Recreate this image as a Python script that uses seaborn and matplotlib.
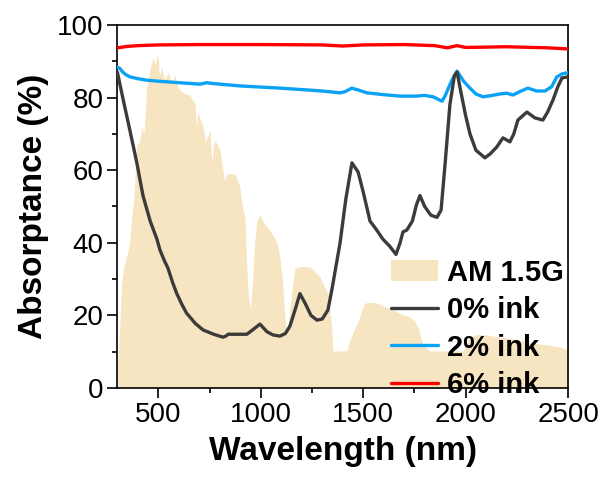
import numpy as np
import pandas as pd
import matplotlib
matplotlib.use("Agg")
import matplotlib.pyplot as plt
import seaborn as sns

# ---- data ----
am_wl = [300, 310, 320, 330, 345, 360, 370, 380, 395, 410, 420, 430, 443, 459, 474, 485, 498, 505,
         517, 530, 547, 565, 581, 595, 605, 630, 654, 670, 678, 687, 693, 705, 718, 730, 752, 762,
         770, 776, 801, 815, 823, 835, 860, 874, 898, 910, 923, 930, 940, 950, 960, 970, 981, 996,
         1020, 1045, 1060, 1080, 1093, 1105, 1118, 1130, 1142, 1155, 1167, 1200, 1240, 1265, 1289,
         1310, 1328, 1340, 1347, 1352, 1420, 1435, 1455, 1474, 1490, 1508, 1540, 1567, 1600, 1645,
         1690, 1728, 1750, 1767, 1785, 1801, 1826, 1990, 2000, 2020, 2050, 2100, 2168, 2250, 2330,
         2400, 2460, 2500]
am_val = [5, 15, 28, 33, 36, 40, 47, 52, 67, 68, 72, 70, 83, 87.6, 91, 89, 92.3, 86,
          88.4, 85, 87, 84, 86.2, 83, 82, 81, 80.7, 79, 78.5, 72, 76, 74, 72, 68, 71, 62,
          67, 68.3, 65.6, 60, 57, 59, 59, 59, 55.4, 50, 47, 35, 25, 22, 30, 40, 46, 47.6,
          45, 43.5, 42, 40, 36, 30, 19, 15, 22, 28, 33, 33.5, 33.3, 32, 30.6,
          28, 26, 20, 16, 10.2, 10.2, 13.2, 16, 18, 21, 23.4, 23.6, 23.4, 22.5, 21.5,
          20.3, 19.6, 18.5, 16.8, 13, 11.3, 10.2, 10.2, 12, 14, 14.8, 14.6, 14, 13.4, 12.4,
          11.8, 11.3, 10.5]

ink0_wl = [300, 330, 361, 395, 425, 460, 493, 508, 530, 547, 570, 590, 615, 638, 680, 718, 770,
           815, 830, 840, 900, 932, 960, 996, 1030, 1060, 1093, 1120, 1142, 1170, 1191, 1215, 1245,
           1274, 1300, 1328, 1350, 1387, 1415, 1445, 1475, 1500, 1533, 1566, 1596, 1630, 1660,
           1680, 1694, 1713, 1740, 1760, 1777, 1800, 1830, 1860, 1880, 1900, 1923, 1945, 1958,
           1975, 2000, 2021, 2050, 2094, 2120, 2152, 2182, 2216, 2235, 2255, 2299, 2338, 2377,
           2400, 2426, 2450, 2470, 2500]
ink0_val = [87, 79, 71, 62, 53, 46, 41, 38, 35, 33, 29, 26, 23, 20.6, 17.8, 16, 14.8,
            14, 14.3, 14.8, 14.8, 14.8, 16, 17.6, 15.5, 14.6, 14.3, 15, 17, 22, 26, 23.5, 20,
            18.7, 19, 21.5, 28, 40, 52, 62, 59.5, 54, 46, 43.5, 41, 39, 36.8,
            40, 43, 43.5, 46, 50.5, 53, 50, 47.6, 47, 49, 62, 78, 86, 87,
            82, 75, 70, 65.5, 63.4, 64.5, 66.4, 68.9, 67.8, 70, 73.8, 76, 74.4, 73.8,
            76, 79.3, 83, 85.4, 85.7]

ink2_wl = [300, 312, 330, 345, 361, 400, 442, 500, 600, 703, 737, 760, 900, 1093, 1200, 1300,
           1387, 1410, 1445, 1480, 1518, 1600, 1680, 1760, 1800, 1841, 1885, 1900, 1930, 1958,
           1990, 2021, 2050, 2085, 2120, 2168, 2200, 2231, 2270, 2304, 2348, 2387, 2420, 2445,
           2470, 2494, 2500]
ink2_val = [88.4, 88, 86.8, 86.2, 85.7, 85.2, 84.8, 84.5, 84.1, 83.7, 84.1, 83.9, 83.2, 82.6,
            82.2, 81.8, 81.3, 81.6, 82.6, 82.0, 81.3, 80.8, 80.4, 80.4, 80.6, 80.2, 79.0, 80.5,
            84.5, 87.3, 84.5, 82.6, 81, 80.2, 80.5, 81, 81.2, 80.7, 81.8, 82.6, 81.8, 81.8, 83,
            85.7, 86.5, 86.8, 86.9]

ink6_wl = [300, 350, 400, 500, 700, 1000, 1300, 1400, 1500, 1700, 1850, 1910, 1958, 2000,
           2200, 2400, 2500]
ink6_val = [93.7, 94.1, 94.3, 94.5, 94.6, 94.6, 94.5, 94.2, 94.5, 94.6, 94.3, 93.7, 94.3, 93.8,
            94.0, 93.7, 93.4]

x_ticks = [500, 1000, 1500, 2000, 2500]
y_ticks = [0, 20, 40, 60, 80, 100]

# ---- style ----
sns.set_style("ticks")
plt.rcParams['font.family'] = ['Liberation Sans', 'DejaVu Sans']
plt.rcParams['axes.linewidth'] = 1.2
plt.rcParams['text.color'] = 'black'
plt.rcParams['axes.labelcolor'] = 'black'
plt.rcParams['xtick.color'] = 'black'
plt.rcParams['ytick.color'] = 'black'
plt.rcParams['lines.solid_joinstyle'] = 'round'

fig = plt.figure(figsize=(6.05, 4.8), dpi=100)
ax = fig.add_axes([0.194, 0.1917, 0.745, 0.7563])

ax.fill_between(am_wl, 0, am_val, color='#F7E5C1', linewidth=0, label='AM 1.5G', zorder=1)

df0 = pd.DataFrame({'wl': ink0_wl, 'A': ink0_val})
df2 = pd.DataFrame({'wl': ink2_wl, 'A': ink2_val})
df6 = pd.DataFrame({'wl': ink6_wl, 'A': ink6_val})
sns.lineplot(data=df0, x='wl', y='A', ax=ax, color='#3b3b3b', lw=2.4, label='0% ink', zorder=4)
sns.lineplot(data=df2, x='wl', y='A', ax=ax, color='#0aa2f5', lw=2.4, label='2% ink', zorder=3)
sns.lineplot(data=df6, x='wl', y='A', ax=ax, color='#ff0000', lw=2.4, label='6% ink', zorder=3)

ax.set_xlim(300, 2500)
ax.set_ylim(0, 100)
ax.set_xticks(x_ticks)
ax.set_yticks(y_ticks)
ax.set_xticks([750, 1250, 1750, 2250], minor=True)
ax.set_yticks([10, 30, 50, 70, 90], minor=True)
ax.tick_params(axis='both', which='major', labelsize=20, length=7, width=1.2, direction='out',
               pad=3, colors='black')
ax.tick_params(axis='both', which='minor', length=3.5, width=1.2, direction='out', colors='black')
for s in ax.spines.values():
    s.set_visible(True)
    s.set_linewidth(1.2)
    s.set_color('black')

ax.set_xlabel('Wavelength (nm)', fontsize=24, fontweight='bold', labelpad=6, color='black')
ax.set_ylabel('Absorptance (%)', fontsize=24, fontweight='bold', labelpad=6, color='black')

leg = ax.legend(loc='lower right', bbox_to_anchor=(0.99, -0.03), frameon=False,
                prop={'weight': 'bold', 'size': 21}, handlelength=1.6, handletextpad=0.3,
                labelspacing=0.32, borderpad=0.0, borderaxespad=0.0)
for t in leg.get_texts():
    t.set_color('black')

fig.savefig('out.png', dpi=100)
